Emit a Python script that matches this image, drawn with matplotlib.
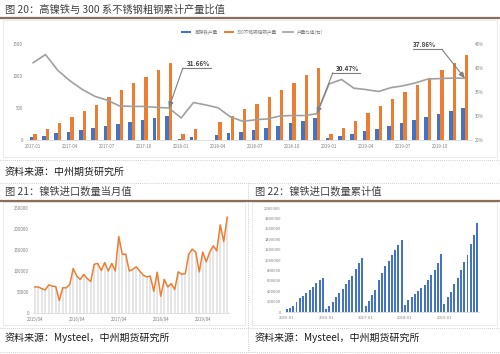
import matplotlib.pyplot as plt
import numpy as np
from matplotlib.lines import Line2D
from matplotlib.patches import Rectangle

plt.rcParams['font.family'] = ['Noto Sans CJK SC', 'DejaVu Sans']

W, H = 500, 354
nan = np.nan

# ---- 图20 data (万吨 / 比值) ----
months20 = [f'{y}-{m:02d}' for y in (2017, 2018, 2019) for m in range(1, 13)]
ticks20 = ['2017-01', '2017-04', '2017-07', '2017-10', '2018-01', '2018-04',
           '2018-07', '2018-10', '2019-01', '2019-04', '2019-07', '2019-10']
nickel_pig = [42, 68, 104, 130, 156, 187, 219, 250, 281, 312, 349, 380,
              16, 52, nan, 78, 104, 130, 157, 189, 220, 262, 294, 336,
              31, 58, 94, 136, 173, 215, 262, 315, 357, 399, 451, 493]
steel300 = [89, 167, 271, 365, 458, 552, 667, 781, 885, 990, 1094, 1198,
            94, 177, nan, 281, 375, 479, 566, 671, 776, 897, 1012, 1128,
            94, 184, 304, 420, 524, 635, 750, 865, 970, 1091, 1206, 1327]
ratio = [0.411, 0.428, 0.395, 0.373, 0.355, 0.341, 0.333, 0.321, 0.320, 0.320, 0.318, 0.3166,
         0.296, 0.328, 0.323, 0.317, 0.298, 0.289, 0.292, 0.294, 0.300, 0.301, 0.301, 0.3047,
         0.367, 0.376, 0.358, 0.355, 0.351, 0.359, 0.363, 0.369, 0.377, 0.378, 0.379, 0.3786]

# ---- 图21 data (吨, 2015/04 - 2019/11) ----
ticks21 = ['2015/04', '2016/04', '2017/04', '2018/04', '2019/04']
monthly_import = [62000, 62000, 58000, 55000, 67000, 64000, 63000, 30000, 60000,
                  60000, 68000, 106000, 88000, 80000, 92000, 82000, 75000, 116000,
                  118000, 101000, 120000, 100000, 118000, 100000, 182000, 140000,
                  140000, 100000, 104000, 110000, 100000, 90000, 86000, 88000, 52000,
                  97000, 40000, 80000, 62000, 70000, 56000, 98000, 92000, 94000,
                  140000, 152000, 145000, 98000, 145000, 122000, 145000, 160000,
                  148000, 210000, 170000, 228000]

# ---- 图22 data (吨, 2015-01 - 2019-11) ----
ticks22 = ['2015-01', '2016-01', '2017-01', '2018-01', '2019-01']
cum_import = [50000, 80000, 120000, 190000, 260000, 310000, 370000, 420000, 490000, 560000, 620000, 650000,
              60000, 110000, 190000, 290000, 370000, 450000, 540000, 610000, 700000, 820000, 940000, 1040000,
              110000, 220000, 330000, 430000, 610000, 750000, 890000, 990000, 1090000, 1190000, 1290000, 1380000,
              140000, 230000, 280000, 350000, 400000, 470000, 520000, 620000, 720000, 810000, 950000, 1110000,
              150000, 290000, 390000, 530000, 660000, 800000, 960000, 1100000, 1310000, 1480000, 1710000]

BLUE, ORANGE, GRAY = '#4472C4', '#ED7D31', '#A0A0A0'
TICK = '#7f7f7f'


def box(x0, y0, x1, y1):
    # pixel box (y down) -> figure fraction rect
    return [x0 / W, 1 - y1 / H, (x1 - x0) / W, (y1 - y0) / H]


def hline(y, x0=0, x1=W, **kw):
    fig.add_artist(Line2D([x0 / W, x1 / W], [1 - y / H, 1 - y / H], **kw))


def style(ax):
    for s in ax.spines.values():
        s.set_visible(False)
    ax.spines['bottom'].set_visible(True)
    ax.spines['bottom'].set_color('#d9d9d9')
    ax.spines['bottom'].set_linewidth(0.6)
    ax.tick_params(length=0, labelsize=3.2, colors=TICK, pad=3)


fig = plt.figure(figsize=(W / 100, H / 100), dpi=100)

# frames and separators
for x0, y0, x1, y1 in [(3, 20, 497, 157), (3, 202, 245, 325), (252, 202, 497, 325)]:
    fig.add_artist(Rectangle((x0 / W, 1 - y1 / H), (x1 - x0) / W, (y1 - y0) / H,
                             fill=False, ec='#e3e3e3', lw=0.5))
dot = dict(color='#bdbdbd', lw=0.6, ls=(0, (1, 1.5)))
for y in (160, 183, 328, 352):
    hline(y, **dot)
fig.add_artist(Line2D([248 / W, 248 / W], [1 - 183 / H, 1 - 352 / H], **dot))
brown = dict(color='#8c6d5c', lw=1.6)
hline(17.5, 0, W, **brown)
hline(200.5, 0, 247, **brown)
hline(200.5, 249, W, **brown)

title_kw = dict(fontsize=7.4, color='#404040', va='center', ha='left')
fig.text(5 / W, 1 - 9.5 / H, '图 20：高镍铁与 300 系不锈钢粗钢累计产量比值', **title_kw)
fig.text(5 / W, 1 - 192 / H, '图 21：镍铁进口数量当月值', **title_kw)
fig.text(255 / W, 1 - 192 / H, '图 22：镍铁进口数量累计值', **title_kw)
src_kw = dict(fontsize=7.2, color='#1a1a1a', va='center', ha='left', style='italic')
fig.text(5 / W, 1 - 172 / H, '资料来源：中州期货研究所', **src_kw)
fig.text(5 / W, 1 - 338 / H, '资料来源：Mysteel，中州期货研究所', **src_kw)
fig.text(255 / W, 1 - 338 / H, '资料来源：Mysteel，中州期货研究所', **src_kw)

# ---- 图20 ----
ax = fig.add_axes(box(27, 44, 471, 140))
x = np.arange(len(months20))
b1 = ax.bar(x - 0.14, nickel_pig, width=0.28, color=BLUE, label='高镍铁产量')
b2 = ax.bar(x + 0.14, steel300, width=0.28, color=ORANGE, label='300不锈钢粗钢产量')
ax.set_xlim(-0.5, len(x) - 0.5)
ax.set_ylim(0, 1500)
ax.set_yticks([0, 500, 1000, 1500])
ax.set_xticks([months20.index(t) for t in ticks20])
ax.set_xticklabels(ticks20)
style(ax)
ax2 = ax.twinx()
l1, = ax2.plot(x, ratio, color=GRAY, lw=1.2, label='产量比值(右)')
ax2.set_ylim(0.25, 0.45)
ax2.set_yticks([0.25, 0.30, 0.35, 0.40, 0.45])
ax2.set_yticklabels(['25%', '30%', '35%', '40%', '45%'])
style(ax2)
ax2.spines['bottom'].set_visible(False)
fig.legend(handles=[b1, b2, l1], loc='center', bbox_to_anchor=(252 / W, 1 - 32 / H),
           ncol=3, frameon=False, fontsize=3.3, handlelength=2.2, handleheight=0.5,
           columnspacing=1.2, labelcolor=TICK)

# callouts: (month, corner, end, text centre) as pixel offsets, y down
callouts = [('2017-12', (14, -40), (42, -40), (30, -45)),
            ('2018-12', (16, -41), (43, -41), (31, -45)),
            ('2019-12', (-23, -29), (-52, -29), (-40, -34))]
inv = fig.transFigure.inverted()
for m, corner, end, txt in callouts:
    i = months20.index(m)
    px, py = ax2.transData.transform((i, ratio[i]))
    pts = [(px + end[0], py - end[1]), (px + corner[0], py - corner[1])]
    fp = inv.transform(pts)
    fig.add_artist(Line2D(fp[:, 0], fp[:, 1], color='#7f7f7f', lw=0.8))
    ax2.annotate('', xy=(i, ratio[i]), xytext=(corner[0], -corner[1]),
                 textcoords='offset pixels',
                 arrowprops=dict(arrowstyle='-|>,head_length=0.35,head_width=0.15',
                                 color='#7f7f7f', lw=0.8, shrinkA=0, shrinkB=0))
    ax2.annotate(f'{ratio[i] * 100:.2f}%', xy=(i, ratio[i]), xytext=(txt[0], -txt[1]),
                 textcoords='offset pixels', ha='center', va='center',
                 fontsize=4.6, fontweight='bold', color='#404040')

# ---- 图21 ----
ax = fig.add_axes(box(33, 208, 229, 313))
x = np.arange(len(monthly_import))
ax.bar(x, monthly_import, width=0.45, color='#e6e6e6')
ax.plot(x, monthly_import, color=ORANGE, lw=1.1)
ax.set_xlim(-0.5, len(x) - 0.5)
ax.set_ylim(0, 250000)
yt = list(range(0, 250001, 50000))
ax.set_yticks(yt)
ax.set_yticklabels([str(v) for v in yt])
ax.set_xticks([0, 12, 24, 36, 48])
ax.set_xticklabels(ticks21)
style(ax)

# ---- 图22 ----
ax = fig.add_axes(box(285, 208, 479, 312))
x = np.arange(len(cum_import))
ax.bar(x, cum_import, width=0.6, color=BLUE)
ax.set_xlim(-0.5, len(x) - 0.5)
ax.set_ylim(0, 2000000)
yt = list(range(0, 2000001, 200000))
ax.set_yticks(yt)
ax.set_yticklabels([str(v) for v in yt])
ax.set_xticks([0, 12, 24, 36, 48])
ax.set_xticklabels(ticks22)
style(ax)
ax.tick_params(labelsize=3.0)

fig.savefig('out.png', dpi=100)
